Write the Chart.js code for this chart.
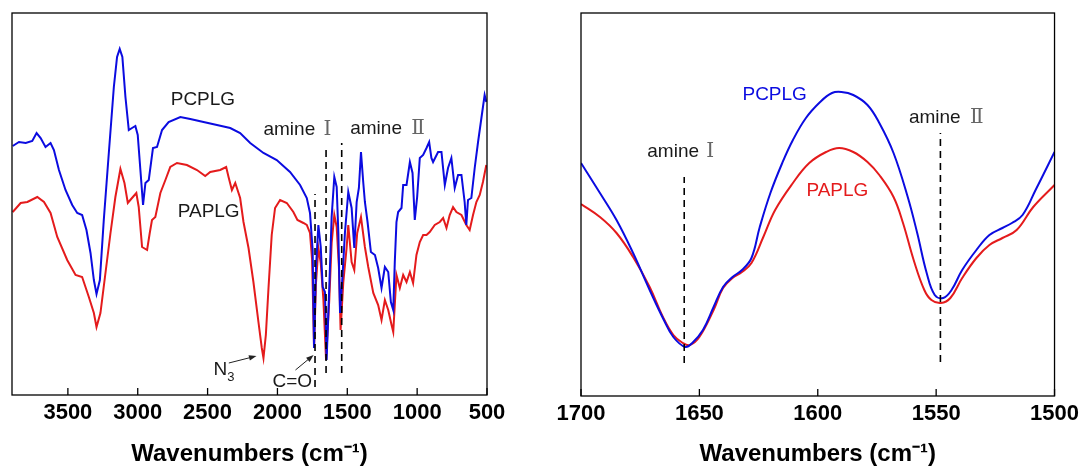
<!DOCTYPE html>
<html>
<head>
<meta charset="utf-8">
<script src="https://cdn.jsdelivr.net/npm/chart.js@4.4.1/dist/chart.umd.min.js"></script>
<style>
  html, body { margin: 0; padding: 0; background: #fff; }
  #wrap { position: relative; width: 1084px; height: 469px; }
  .panel { position: absolute; top: 0; height: 469px; }
  #left-panel { left: 0; width: 540px; }
  #right-panel { left: 540px; width: 544px; }
</style>
</head>
<body>
<div id="wrap">
  <div class="panel" id="left-panel"><canvas id="full-chart"></canvas></div>
  <div class="panel" id="right-panel"><canvas id="zoom-chart"></canvas></div>
</div>
<script>
// ---------------------------------------------------------------------------
// Data (y is transmittance in arbitrary units)
// ---------------------------------------------------------------------------

const fullTicks = [3500, 3000, 2500, 2000, 1500, 1000, 500];
const zoomTicks = [1700, 1650, 1600, 1550, 1500];

const pcplgWave = [
  3895, 3850, 3802, 3755, 3724, 3695, 3660, 3624, 3600, 3564,
  3517, 3469, 3433, 3398, 3367, 3338, 3314, 3295, 3271, 3243,
  3207, 3171, 3148, 3129, 3110, 3088, 3064, 3041, 3017, 3000,
  2981, 2962, 2945, 2921, 2891, 2862, 2826, 2779, 2695, 2624,
  2529, 2433, 2338, 2267, 2195, 2100, 2005, 1910, 1838, 1790,
  1767, 1748, 1738, 1724, 1707, 1690, 1676, 1660, 1648, 1629,
  1612, 1593, 1576, 1564, 1552, 1533, 1517, 1493, 1469, 1450,
  1433, 1417, 1402, 1386, 1374, 1355, 1331, 1302, 1279, 1255,
  1231, 1207, 1188, 1171, 1160, 1148, 1136, 1112, 1100, 1076,
  1052, 1033, 1017, 1000, 981, 957, 933, 914, 898, 886,
  850, 826, 802, 779, 755, 731, 707, 683, 660, 648,
  636, 612, 588, 564, 540, 517, 505
];
const pcplgValue = [
  249, 253, 252, 254, 262, 257, 248, 252, 245, 225,
  205, 190, 182, 180, 165, 142, 115, 101, 115, 175,
  242, 308, 338, 346, 338, 298, 265, 267, 269, 260,
  225, 190, 212, 215, 247, 248, 265, 273, 278, 276,
  273, 270, 267, 262, 252, 242, 235, 223, 210, 197,
  182, 145, 47, 128, 170, 148, 108, 103, 35, 108,
  178, 218, 208, 162, 82, 122, 162, 203, 187, 147,
  193, 207, 243, 213, 193, 173, 143, 140, 127, 107,
  128, 123, 93, 85, 133, 173, 183, 187, 210, 210,
  233, 222, 175, 198, 237, 240, 247, 253, 237, 233,
  243, 243, 210, 227, 237, 207, 220, 220, 193, 170,
  195, 197, 227, 253, 277, 300, 293
];

const paplgWave = [
  3895, 3838, 3790, 3719, 3671, 3624, 3576, 3505, 3445, 3398,
  3350, 3314, 3295, 3267, 3231, 3195, 3160, 3124, 3095, 3071,
  3041, 3010, 2993, 2969, 2933, 2914, 2898, 2874, 2838, 2802,
  2767, 2719, 2648, 2576, 2517, 2481, 2410, 2367, 2350, 2326,
  2302, 2267, 2243, 2207, 2172, 2136, 2112, 2100, 2083, 2064,
  2041, 2017, 1981, 1933, 1886, 1857, 1814, 1790, 1767, 1752,
  1738, 1724, 1707, 1690, 1671, 1652, 1629, 1612, 1593, 1576,
  1560, 1548, 1529, 1505, 1493, 1469, 1450, 1429, 1402, 1374,
  1350, 1314, 1279, 1255, 1231, 1207, 1183, 1171, 1148, 1124,
  1100, 1076, 1052, 1029, 1005, 981, 957, 933, 910, 874,
  838, 814, 790, 767, 743, 719, 683, 648, 624, 600,
  576, 552, 529, 505
];
const paplgValue = [
  183, 192, 193, 198, 193, 182, 158, 135, 120, 118,
  98, 82, 68, 82, 122, 162, 198, 226, 212, 192,
  197, 202, 188, 148, 145, 162, 175, 178, 202, 215,
  228, 232, 230, 225, 219, 223, 225, 228, 218, 205,
  212, 197, 173, 147, 113, 73, 47, 37, 60, 107,
  160, 187, 195, 192, 183, 175, 172, 170, 162, 135,
  47, 112, 147, 132, 95, 35, 95, 152, 180, 168,
  128, 65, 112, 147, 170, 133, 125, 162, 178, 148,
  128, 102, 90, 75, 95, 85, 70, 63, 120, 107,
  120, 113, 123, 112, 140, 153, 160, 160, 163, 170,
  173, 177, 167, 180, 188, 183, 180, 170, 165, 180,
  193, 200, 213, 230
];

// 1700-1500 cm-1 close-up
const zoomPcplgWave = [
  1700, 1692, 1685, 1678, 1671, 1665, 1661, 1656, 1653, 1648.5,
  1644, 1640, 1636, 1632, 1628, 1624.5, 1620, 1615, 1610.5, 1605,
  1599, 1594, 1590, 1585, 1579, 1574, 1568, 1562, 1558, 1554,
  1550.6, 1547, 1543.5, 1539, 1533, 1527.5, 1522, 1518, 1513.5, 1508,
  1500
];
const zoomPcplgValue = [
  233, 203, 176, 143, 106, 76, 59, 49, 53, 66,
  89, 109, 119, 126, 138, 169, 203, 233, 256, 278,
  294, 303, 304, 301, 291, 273, 243, 199, 163, 123,
  101, 98, 106, 126, 146, 161, 168, 173, 181, 206,
  244
];
const zoomPaplgWave = [
  1700, 1692, 1685, 1678, 1671, 1665.4, 1661, 1657, 1654, 1650,
  1644, 1640, 1636, 1632, 1628, 1623, 1618, 1610.5, 1603.6, 1596.5,
  1591, 1585, 1579, 1574, 1568, 1564, 1559.5, 1555, 1552, 1548,
  1544, 1539, 1533, 1527.5, 1522, 1516, 1509, 1500
];
const zoomPaplgValue = [
  192, 179, 163, 139, 109, 79, 61, 53, 51, 59,
  86, 108, 118, 124, 133, 159, 186, 213, 233, 244,
  248, 244, 234, 221, 199, 173, 136, 106, 96, 93,
  98, 118, 138, 151, 158, 166, 189, 211
];

// band markers: wavenumber, dashed line from / to
const fullMarkers = [[1731, 8, 201], [1652, 22, 250], [1540, 22, 252]];
const zoomMarkers = [[1656.4, 33, 219], [1548.2, 34, 263]];

// ---------------------------------------------------------------------------
// Styles
// ---------------------------------------------------------------------------

const SANS = '"Liberation Sans", Arial, sans-serif';
const BLUE = "#0b0be0";
const RED = "#e41b1c";
const LABEL_FONT = "19px " + SANS;
const ROMAN_FONT = '20px "DejaVu Serif", "Liberation Serif", serif';

function toPoints(xs, ys) {
    return xs.map((x, i) => ({ x: x, y: ys[i] }));
}

function spectrum(label, xs, ys, color, tension) {
    return {
        label: label,
        data: toPoints(xs, ys),
        borderColor: color,
        borderWidth: 2,
        pointRadius: 0,
        tension: tension,
        fill: false,
    };
}

function marker(m) {
    return {
        label: "marker",
        data: [{ x: m[0], y: m[1] }, { x: m[0], y: m[2] }],
        borderColor: "#000",
        borderWidth: 1.6,
        borderDash: [7, 5],
        pointRadius: 0,
    };
}

// text, arrows, inward ticks and the box round the plot
const ftirPlugin = {
    id: "ftir",
    afterDraw(chart, args, opts) {
        const ctx = chart.ctx;
        const xs = chart.scales.x;
        const ys = chart.scales.y;
        const area = chart.chartArea;
        ctx.save();

        ctx.strokeStyle = "#000";
        ctx.lineWidth = 1.3;
        xs.ticks.forEach((t) => {
            const px = xs.getPixelForValue(t.value);
            ctx.beginPath();
            ctx.moveTo(px, area.bottom);
            ctx.lineTo(px, area.bottom - 7);
            ctx.stroke();
        });
        ctx.strokeRect(area.left, area.top, area.right - area.left, area.bottom - area.top);

        ctx.textBaseline = "alphabetic";
        ctx.textAlign = "left";
        (opts.labels || []).forEach((lab) => {
            let cx = xs.getPixelForValue(lab.at[0]);
            const cy = ys.getPixelForValue(lab.at[1]);
            lab.parts.forEach((p) => {
                ctx.font = p.font || LABEL_FONT;
                ctx.fillStyle = p.color || lab.color || "#1a1a1a";
                cx += p.dx || 0;
                ctx.fillText(p.text, cx, cy + (p.dy || 0));
                cx += ctx.measureText(p.text).width;
            });
        });

        ctx.strokeStyle = "#222";
        ctx.fillStyle = "#222";
        ctx.lineWidth = 1;
        (opts.arrows || []).forEach((a) => {
            const x0 = xs.getPixelForValue(a.from[0]), y0 = ys.getPixelForValue(a.from[1]);
            const x1 = xs.getPixelForValue(a.to[0]), y1 = ys.getPixelForValue(a.to[1]);
            const ang = Math.atan2(y1 - y0, x1 - x0);
            ctx.beginPath();
            ctx.moveTo(x0, y0);
            ctx.lineTo(x1 - 5 * Math.cos(ang), y1 - 5 * Math.sin(ang));
            ctx.stroke();
            ctx.beginPath();
            ctx.moveTo(x1, y1);
            ctx.lineTo(x1 - 8 * Math.cos(ang - 0.35), y1 - 8 * Math.sin(ang - 0.35));
            ctx.lineTo(x1 - 8 * Math.cos(ang + 0.35), y1 - 8 * Math.sin(ang + 0.35));
            ctx.closePath();
            ctx.fill();
        });
        ctx.restore();
    },
};

function spectrumChart(canvasId, cfg) {
    return new Chart(document.getElementById(canvasId), {
        type: "line",
        data: { datasets: cfg.datasets },
        options: {
            responsive: true,
            maintainAspectRatio: false,
            animation: false,
            events: [],
            layout: { padding: cfg.padding },
            plugins: {
                legend: { display: false },
                tooltip: { enabled: false },
                ftir: cfg.notes,
            },
            scales: {
                x: {
                    type: "linear",
                    reverse: true,
                    min: cfg.xMin,
                    max: cfg.xMax,
                    afterBuildTicks: (s) => { s.ticks = cfg.ticks.map((v) => ({ value: v })); },
                    afterFit: (s) => { s.height = cfg.axisHeight; },
                    grid: { display: false, drawTicks: false },
                    border: { display: false },
                    ticks: {
                        color: "#000",
                        padding: 5,
                        autoSkip: false,
                        maxRotation: 0,
                        font: { family: SANS, size: 22, weight: "bold" },
                        callback: (v) => String(v),
                    },
                    title: {
                        display: true,
                        text: "Wavenumbers (cm\u207B\u00B9)",
                        color: "#000",
                        padding: { top: 0, bottom: 0 },
                        font: { family: SANS, size: 24, weight: "bold" },
                    },
                },
                y: { display: false, min: 0, max: cfg.yMax },
            },
        },
        plugins: [ftirPlugin],
    });
}

// ---------------------------------------------------------------------------
// Full spectrum
// ---------------------------------------------------------------------------

spectrumChart("full-chart", {
    xMin: 500, xMax: 3900, yMax: 382, ticks: fullTicks, axisHeight: 74,
    padding: { left: 12, top: 13, right: 53, bottom: 0 },
    datasets: [
        ...fullMarkers.map(marker),
        spectrum("PCPLG", pcplgWave, pcplgValue, BLUE, 0),
        spectrum("PAPLG", paplgWave, paplgValue, RED, 0),
    ],
    notes: {
        labels: [
            { at: [2764, 290], parts: [{ text: "PCPLG" }] },
            { at: [2714, 178], parts: [{ text: "PAPLG" }] },
            { at: [2100, 260], parts: [{ text: "amine " }, { text: "\u2160", dx: 3, font: ROMAN_FONT, color: "#666" }] },
            { at: [1479, 261], parts: [{ text: "amine " }, { text: "\u2161", dx: 4, font: ROMAN_FONT, color: "#666" }] },
            { at: [2457, 20], parts: [{ text: "N" }, { text: "3", dy: 6, font: "13px " + SANS }] },
            { at: [2036, 8], parts: [{ text: "C=O" }] },
        ],
        arrows: [
            { from: [2348, 32], to: [2150, 39] },
            { from: [1871, 25], to: [1741, 40] },
        ],
    },
});

// ---------------------------------------------------------------------------
// 1700-1500 close-up
// ---------------------------------------------------------------------------

spectrumChart("zoom-chart", {
    xMin: 1500, xMax: 1700, yMax: 383, ticks: zoomTicks, axisHeight: 73,
    padding: { left: 41, top: 13, right: 29, bottom: 0 },
    datasets: [
        ...zoomMarkers.map(marker),
        spectrum("PCPLG", zoomPcplgWave, zoomPcplgValue, BLUE, 0.4),
        spectrum("PAPLG", zoomPaplgWave, zoomPaplgValue, RED, 0.4),
    ],
    notes: {
        labels: [
            { at: [1631.8, 296], color: BLUE, parts: [{ text: "PCPLG" }] },
            { at: [1604.8, 200], color: RED, parts: [{ text: "PAPLG" }] },
            { at: [1672, 239], parts: [{ text: "amine " }, { text: "\u2160", dx: 2, font: ROMAN_FONT, color: "#666" }] },
            { at: [1561.5, 273], parts: [{ text: "amine " }, { text: "\u2161", dx: 4, font: ROMAN_FONT, color: "#666" }] },
        ],
    },
});
</script>
</body>
</html>
